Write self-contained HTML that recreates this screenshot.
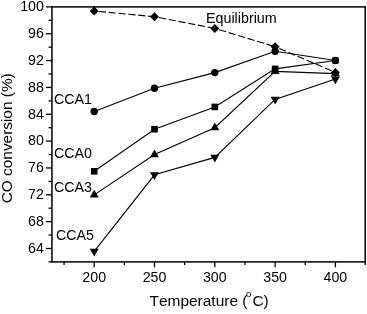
<!DOCTYPE html><html><head><meta charset="utf-8"><style>html,body{margin:0;padding:0;background:#fff;}svg{display:block;will-change:transform;filter:grayscale(1);}text{font-family:"Liberation Sans",sans-serif;fill:#000;font-kerning:none;}</style></head><body>
<svg width="367" height="314" viewBox="0 0 367 314">
<rect width="367" height="314" fill="#fff"/>
<rect x="51.95" y="6.9" width="313.25" height="255.00" fill="none" stroke="#000" stroke-width="1.5"/>
<line x1="48.55" y1="261.90" x2="51.95" y2="261.90" stroke="#000" stroke-width="1.3"/>
<line x1="45.95" y1="248.48" x2="51.95" y2="248.48" stroke="#000" stroke-width="1.3"/>
<text x="43.8" y="252.78" font-size="14.2" text-anchor="end">64</text>
<line x1="48.55" y1="235.06" x2="51.95" y2="235.06" stroke="#000" stroke-width="1.3"/>
<line x1="45.95" y1="221.64" x2="51.95" y2="221.64" stroke="#000" stroke-width="1.3"/>
<text x="43.8" y="225.94" font-size="14.2" text-anchor="end">68</text>
<line x1="48.55" y1="208.22" x2="51.95" y2="208.22" stroke="#000" stroke-width="1.3"/>
<line x1="45.95" y1="194.79" x2="51.95" y2="194.79" stroke="#000" stroke-width="1.3"/>
<text x="43.8" y="199.09" font-size="14.2" text-anchor="end">72</text>
<line x1="48.55" y1="181.37" x2="51.95" y2="181.37" stroke="#000" stroke-width="1.3"/>
<line x1="45.95" y1="167.95" x2="51.95" y2="167.95" stroke="#000" stroke-width="1.3"/>
<text x="43.8" y="172.25" font-size="14.2" text-anchor="end">76</text>
<line x1="48.55" y1="154.53" x2="51.95" y2="154.53" stroke="#000" stroke-width="1.3"/>
<line x1="45.95" y1="141.11" x2="51.95" y2="141.11" stroke="#000" stroke-width="1.3"/>
<text x="43.8" y="145.41" font-size="14.2" text-anchor="end">80</text>
<line x1="48.55" y1="127.69" x2="51.95" y2="127.69" stroke="#000" stroke-width="1.3"/>
<line x1="45.95" y1="114.27" x2="51.95" y2="114.27" stroke="#000" stroke-width="1.3"/>
<text x="43.8" y="118.57" font-size="14.2" text-anchor="end">84</text>
<line x1="48.55" y1="100.85" x2="51.95" y2="100.85" stroke="#000" stroke-width="1.3"/>
<line x1="45.95" y1="87.43" x2="51.95" y2="87.43" stroke="#000" stroke-width="1.3"/>
<text x="43.8" y="91.73" font-size="14.2" text-anchor="end">88</text>
<line x1="48.55" y1="74.01" x2="51.95" y2="74.01" stroke="#000" stroke-width="1.3"/>
<line x1="45.95" y1="60.58" x2="51.95" y2="60.58" stroke="#000" stroke-width="1.3"/>
<text x="43.8" y="64.88" font-size="14.2" text-anchor="end">92</text>
<line x1="48.55" y1="47.16" x2="51.95" y2="47.16" stroke="#000" stroke-width="1.3"/>
<line x1="45.95" y1="33.74" x2="51.95" y2="33.74" stroke="#000" stroke-width="1.3"/>
<text x="43.8" y="38.04" font-size="14.2" text-anchor="end">96</text>
<line x1="48.55" y1="20.32" x2="51.95" y2="20.32" stroke="#000" stroke-width="1.3"/>
<line x1="45.95" y1="6.90" x2="51.95" y2="6.90" stroke="#000" stroke-width="1.3"/>
<text x="43.8" y="11.20" font-size="14.2" text-anchor="end">100</text>
<line x1="64.05" y1="261.9" x2="64.05" y2="265.10" stroke="#000" stroke-width="1.3"/>
<line x1="94.20" y1="261.9" x2="94.20" y2="267.30" stroke="#000" stroke-width="1.3"/>
<text x="94.20" y="281.9" font-size="14.2" text-anchor="middle">200</text>
<line x1="124.35" y1="261.9" x2="124.35" y2="265.10" stroke="#000" stroke-width="1.3"/>
<line x1="154.50" y1="261.9" x2="154.50" y2="267.30" stroke="#000" stroke-width="1.3"/>
<text x="154.50" y="281.9" font-size="14.2" text-anchor="middle">250</text>
<line x1="184.65" y1="261.9" x2="184.65" y2="265.10" stroke="#000" stroke-width="1.3"/>
<line x1="214.80" y1="261.9" x2="214.80" y2="267.30" stroke="#000" stroke-width="1.3"/>
<text x="214.80" y="281.9" font-size="14.2" text-anchor="middle">300</text>
<line x1="244.95" y1="261.9" x2="244.95" y2="265.10" stroke="#000" stroke-width="1.3"/>
<line x1="275.10" y1="261.9" x2="275.10" y2="267.30" stroke="#000" stroke-width="1.3"/>
<text x="275.10" y="281.9" font-size="14.2" text-anchor="middle">350</text>
<line x1="305.25" y1="261.9" x2="305.25" y2="265.10" stroke="#000" stroke-width="1.3"/>
<line x1="335.40" y1="261.9" x2="335.40" y2="267.30" stroke="#000" stroke-width="1.3"/>
<text x="335.40" y="281.9" font-size="14.2" text-anchor="middle">400</text>
<line x1="365.20" y1="261.9" x2="365.20" y2="265.10" stroke="#000" stroke-width="1.3"/>
<line x1="94.20" y1="11.00" x2="154.50" y2="16.70" stroke="#000" stroke-width="1.1" stroke-dasharray="7.2 2.7" stroke-dashoffset="5.30"/>
<line x1="154.50" y1="16.70" x2="214.80" y2="28.40" stroke="#000" stroke-width="1.1" stroke-dasharray="7.2 2.7" stroke-dashoffset="5.30"/>
<line x1="214.80" y1="28.40" x2="275.10" y2="46.70" stroke="#000" stroke-width="1.1" stroke-dasharray="7.2 2.7" stroke-dashoffset="5.30"/>
<line x1="275.10" y1="46.70" x2="335.40" y2="72.40" stroke="#000" stroke-width="1.1" stroke-dasharray="7.2 2.7" stroke-dashoffset="5.30"/>
<polyline points="94.20,111.50 154.50,88.20 214.80,72.60 275.10,51.30 335.40,60.50" fill="none" stroke="#000" stroke-width="1.1"/>
<polyline points="94.20,171.30 154.50,129.20 214.80,106.90 275.10,68.90 335.40,60.50" fill="none" stroke="#000" stroke-width="1.1"/>
<polyline points="94.20,194.90 154.50,154.60 214.80,127.70 275.10,71.40 335.40,73.60" fill="none" stroke="#000" stroke-width="1.1"/>
<polyline points="94.20,251.30 154.50,174.80 214.80,157.40 275.10,99.40 335.40,79.00" fill="none" stroke="#000" stroke-width="1.1"/>
<polygon points="94.20,6.50 98.70,11.00 94.20,15.50 89.70,11.00" fill="#000"/>
<polygon points="154.50,12.20 159.00,16.70 154.50,21.20 150.00,16.70" fill="#000"/>
<polygon points="214.80,23.90 219.30,28.40 214.80,32.90 210.30,28.40" fill="#000"/>
<polygon points="275.10,42.20 279.60,46.70 275.10,51.20 270.60,46.70" fill="#000"/>
<polygon points="335.40,67.90 339.90,72.40 335.40,76.90 330.90,72.40" fill="#000"/>
<circle cx="94.20" cy="111.50" r="3.7" fill="#000"/>
<circle cx="154.50" cy="88.20" r="3.7" fill="#000"/>
<circle cx="214.80" cy="72.60" r="3.7" fill="#000"/>
<circle cx="275.10" cy="51.30" r="3.7" fill="#000"/>
<circle cx="335.40" cy="60.50" r="3.7" fill="#000"/>
<rect x="90.90" y="168.00" width="6.6" height="6.6" fill="#000"/>
<rect x="151.20" y="125.90" width="6.6" height="6.6" fill="#000"/>
<rect x="211.50" y="103.60" width="6.6" height="6.6" fill="#000"/>
<rect x="271.80" y="65.60" width="6.6" height="6.6" fill="#000"/>
<rect x="332.10" y="57.20" width="6.6" height="6.6" rx="1.2" fill="#000"/>
<polygon points="94.20,189.70 98.70,197.50 89.70,197.50" fill="#000"/>
<polygon points="154.50,149.40 159.00,157.20 150.00,157.20" fill="#000"/>
<polygon points="214.80,122.50 219.30,130.30 210.30,130.30" fill="#000"/>
<polygon points="275.10,66.20 279.60,74.00 270.60,74.00" fill="#000"/>
<polygon points="335.40,68.40 339.90,76.20 330.90,76.20" fill="#000"/>
<polygon points="94.20,256.50 98.70,248.70 89.70,248.70" fill="#000"/>
<polygon points="154.50,180.00 159.00,172.20 150.00,172.20" fill="#000"/>
<polygon points="214.80,162.60 219.30,154.80 210.30,154.80" fill="#000"/>
<polygon points="275.10,104.60 279.60,96.80 270.60,96.80" fill="#000"/>
<polygon points="335.40,84.20 339.90,76.40 330.90,76.40" fill="#000"/>
<text x="206" y="22.6" font-size="14.3">Equilibrium</text>
<text x="54" y="104.1" font-size="14.25">CCA1</text>
<text x="54" y="158.4" font-size="14.25">CCA0</text>
<text x="54" y="192.2" font-size="14.25">CCA3</text>
<text x="56.0" y="240.0" font-size="14.25">CCA5</text>
<text transform="translate(149.5,306) scale(1.046,1)" font-size="14.8">Temperature (<tspan font-size="9.2" dy="-8.7" dx="-1.3">o</tspan><tspan dy="8.7" dx="0.9">C)</tspan></text>
<text transform="translate(12.0,203.3) rotate(-90)" font-size="15.4">CO conversion (%)</text>
</svg></body></html>
